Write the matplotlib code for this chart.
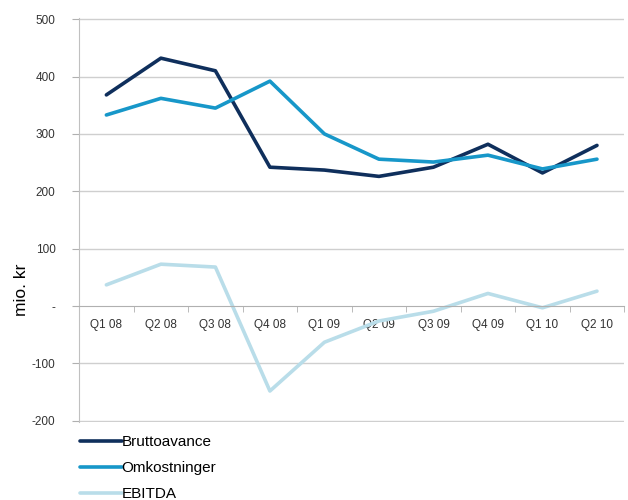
import matplotlib.pyplot as plt
import numpy as np

quarters = ['Q1 08', 'Q2 08', 'Q3 08', 'Q4 08', 'Q1 09', 'Q2 09', 'Q3 09', 'Q4 09', 'Q1 10', 'Q2 10']
brutto = [368, 432, 410, 242, 237, 226, 242, 282, 232, 280]
omkost = [333, 362, 345, 392, 300, 256, 251, 263, 239, 256]
ebitda = [37, 73, 68, -148, -63, -26, -9, 22, -3, 26]

yticks = [-200, -100, 0, 100, 200, 300, 400, 500]
ylabels = ['-200', '-100', '-', '100', '200', '300', '400', '500']

plt.rcParams['font.family'] = ['Liberation Sans', 'DejaVu Sans']

fig = plt.figure(figsize=(6.28, 5), dpi=100)
ax = fig.add_axes([0.126, 0.156, 0.868, 0.808])

x = np.arange(len(quarters))
ax.plot(x, brutto, color='#0f2f5c', lw=2.6, label='Bruttoavance', solid_capstyle='round')
ax.plot(x, omkost, color='#1797c9', lw=2.6, label='Omkostninger', solid_capstyle='round')
ax.plot(x, ebitda, color='#b9dde9', lw=2.6, label='EBITDA', solid_capstyle='round')

ax.set_xlim(-0.5, len(quarters) - 0.5)
ax.set_ylim(-202, 502)
ax.set_yticks(yticks)
ax.set_yticklabels(ylabels, fontsize=8.5, color='#333333')
for yv in yticks:
    if yv != 0:
        ax.axhline(yv, color='#cfcfcf', lw=1, zorder=0)
ax.tick_params(axis='y', length=5, color='#b0b0b0', pad=12)

ax.spines['bottom'].set_position(('data', 0))
ax.spines['bottom'].set_color('#b0b0b0')
ax.spines['left'].set_color('#c0c0c0')
ax.spines['top'].set_visible(False)
ax.spines['right'].set_visible(False)

ax.set_xticks(x)
ax.set_xticklabels(quarters, fontsize=8.5, color='#333333')
ax.set_xticks(np.arange(len(quarters) + 1) - 0.5, minor=True)
ax.tick_params(axis='x', which='major', length=0, pad=9)
ax.tick_params(axis='x', which='minor', length=4, color='#b0b0b0', direction='out')

fig.text(0.035, 0.42, 'mio. kr', rotation=90, fontsize=12.5, va='center', ha='center')

fig.legend(loc='upper left', bbox_to_anchor=(0.128, 0.13), frameon=False,
           fontsize=11, handlelength=2.7, handletextpad=0.0, labelspacing=0.8,
           borderaxespad=0, borderpad=0)

fig.savefig('out.png', dpi=100)
